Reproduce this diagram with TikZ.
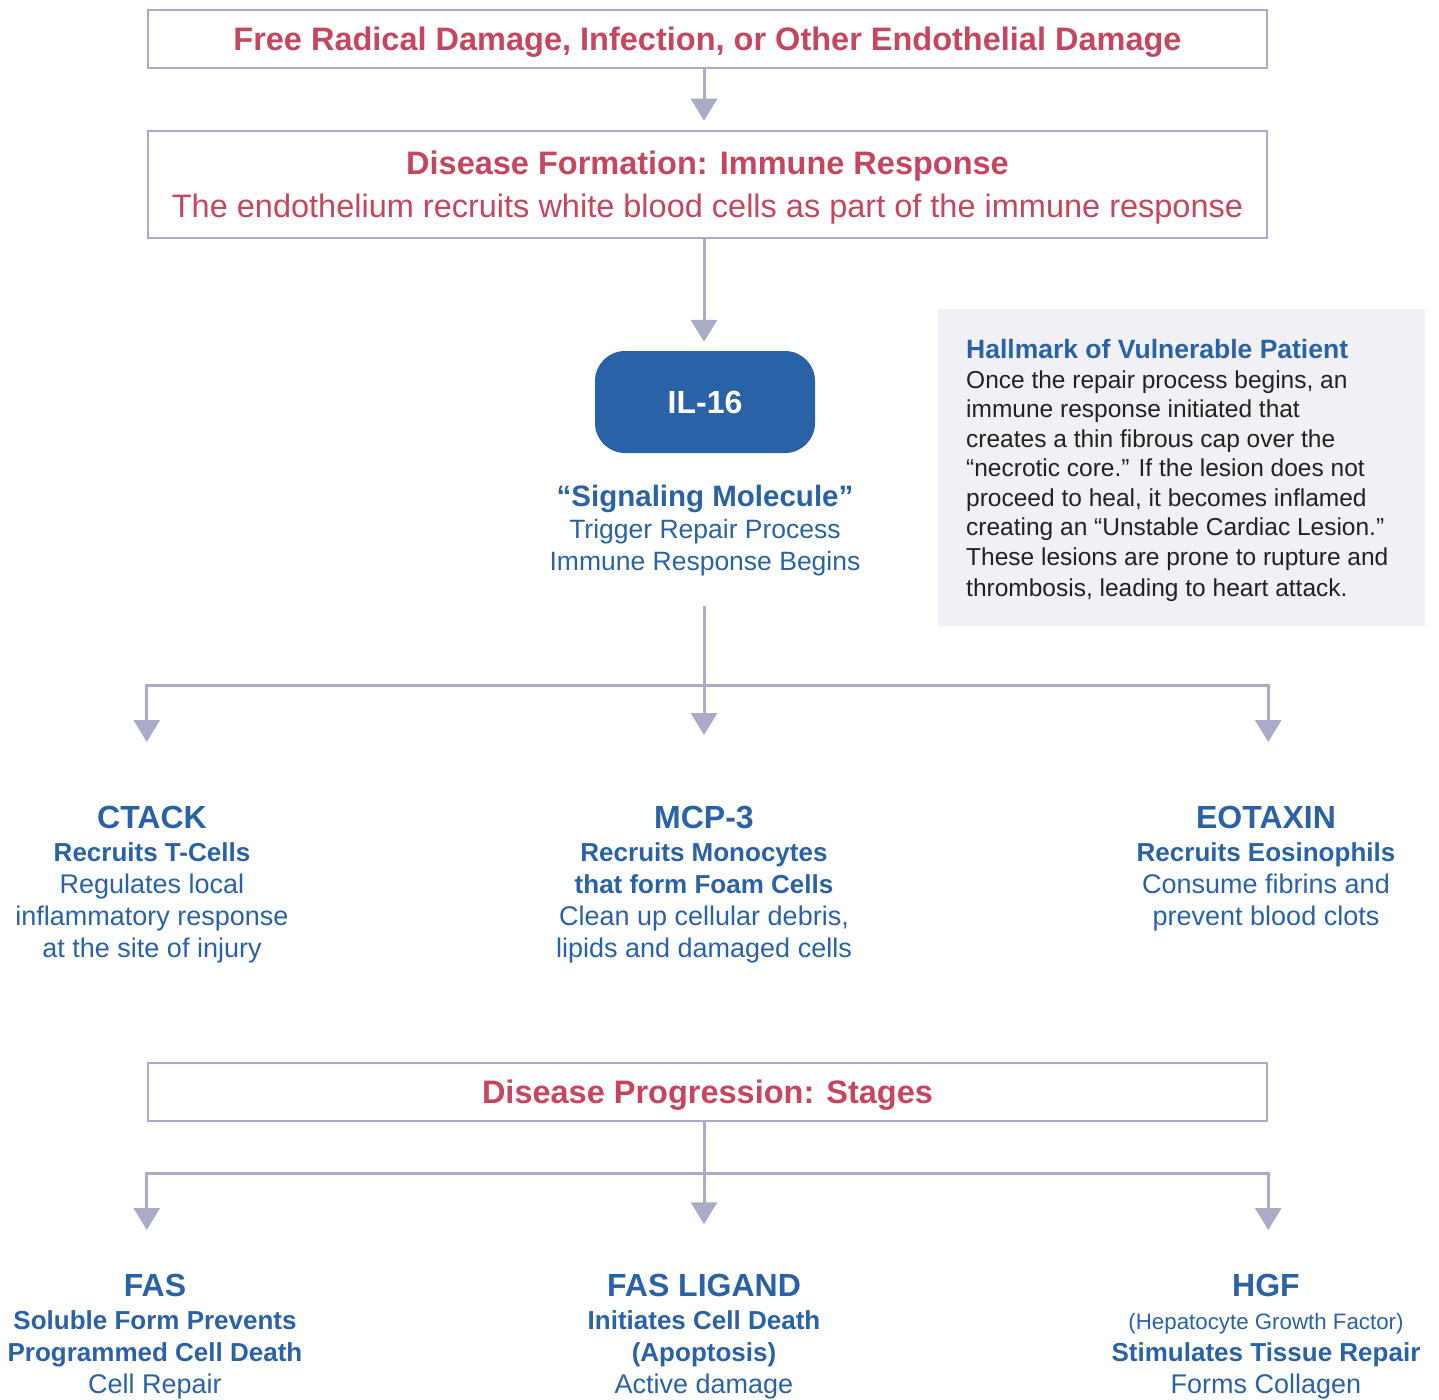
\documentclass[tikz,border=0pt]{standalone}
\usepackage{fontspec}
\setmainfont{Liberation Sans}
\usetikzlibrary{arrows.meta}
\usetikzlibrary{positioning}

\definecolor{rosered}{HTML}{C6465F}
\definecolor{deepblue}{HTML}{2962A6}
\definecolor{linegray}{HTML}{A9ABC9}
\definecolor{panelgray}{HTML}{F0F0F5}
\definecolor{inkgray}{HTML}{222222}

\newcommand{\hdfont}{\fontsize{32}{32}\bfseries}
\newcommand{\subfont}{\fontsize{26}{32}\bfseries}
\newcommand{\txtfont}{\fontsize{27}{32}\mdseries}
\newcommand{\capfont}{\fontsize{26.5}{32}\mdseries}
\newcommand{\smallnote}{\fontsize{22.3}{32}\mdseries}

\tikzset{
  stagebox/.style={draw=linegray, line width=2.5pt, minimum width=1119pt, inner sep=0pt, text depth=0pt,
    align=center, text=rosered, font=\fontsize{32.5}{43}\bfseries},
  wire/.style={draw=linegray, line width=3pt},
  flow/.style={wire, -{Triangle[width=26pt,length=22pt]}},
  fork/.style={wire, {Triangle[width=26pt,length=22pt]}-{Triangle[width=26pt,length=22pt]}},
  column/.style={anchor=north, inner sep=0pt, align=center, text=deepblue, font=\fontsize{27}{32}\selectfont},
}

\begin{document}
\begin{tikzpicture}[x=1pt, y=-1pt,
  il16/.style={fill=deepblue, rounded corners=30pt, minimum width=220pt, minimum height=102pt,
    text=white, font=\fontsize{32}{32}\bfseries},
  caption/.style={anchor=north, inner sep=0pt, align=center, text=deepblue,
    font=\fontsize{29.5}{32}\bfseries},
  panel/.style={anchor=north west, fill=panelgray, minimum width=487pt, minimum height=317pt, inner sep=0pt},
  note/.style={anchor=north west, inner sep=0pt, align=left, text=inkgray, font=\fontsize{24.5}{29.5}\selectfont}]

\useasboundingbox (0,0) rectangle (1439,1399);

% formation
\node[stagebox, minimum height=58pt] (cause) at (707.5,39) {Free Radical Damage, Infection, or Other Endothelial Damage};
\node[stagebox, minimum height=107pt] (formation) at (707.5,184.5) {Disease Formation: Immune Response\\ \mdseries The endothelium recruits white blood cells as part of the immune response};
\node[il16] (il) at (705,402) {IL-16};
\node[caption, below=32pt of il] (signal) {“Signaling Molecule”\\ \capfont Trigger Repair Process\\ \capfont Immune Response Begins};

\node[panel] (hallmark) at (938,309) {};
\node[note] (hallmarktext) at (966,339.5) {{\color{deepblue}\fontsize{26.5}{29.5}\bfseries Hallmark of Vulnerable Patient}\\
Once the repair process begins, an\\
immune response initiated that\\
creates a thin fibrous cap over the\\
“necrotic core.” If the lesion does not\\
proceed to heal, it becomes inflamed\\
creating an “Unstable Cardiac Lesion.”\\
These lesions are prone to rupture and\\[2pt]
thrombosis, leading to heart attack.};

\coordinate (trunkA) at (704,606);
\coordinate (forkA) at (704,685);

\draw[flow] (cause.south -| trunkA) -- ([yshift=9pt]formation.north -| trunkA);
\draw[flow] (formation.south -| trunkA) -- ([yshift=9pt]il.north -| trunkA);
\draw[flow] (trunkA) -- ++(0,129);
\draw[fork] ([yshift=-57pt]forkA -| cause.west) -- (forkA -| cause.west) -- (forkA -| cause.east) -- ([yshift=-57pt]forkA -| cause.east);

\node[column] (ctack) at (152,806) {\hdfont CTACK\\[1pt] \subfont Recruits T-Cells\\ \txtfont Regulates local\\ \txtfont inflammatory response\\ \txtfont at the site of injury};
\node[column] (mcp) at (704,806) {\hdfont MCP-3\\[1pt] \subfont Recruits Monocytes\\ \subfont that form Foam Cells\\ \txtfont Clean up cellular debris,\\ \txtfont lipids and damaged cells};
\node[column] (eotaxin) at (1266,806) {\hdfont EOTAXIN\\[1pt] \subfont Recruits Eosinophils\\ \txtfont Consume fibrins and\\ \txtfont prevent blood clots};

% progression
\node[stagebox, minimum height=58pt] (stages) at (707.5,1092) {Disease Progression: Stages};

\coordinate (forkB) at (704,1173);
\draw[flow] (stages.south -| trunkA) -- ++(0,102);
\draw[fork] ([yshift=-57pt]forkB -| stages.west) -- (forkB -| stages.west) -- (forkB -| stages.east) -- ([yshift=-57pt]forkB -| stages.east);

\node[column] (fas) at (155,1274) {\hdfont FAS\\[1pt] \subfont Soluble Form Prevents\\ \subfont Programmed Cell Death\\ \txtfont Cell Repair};
\node[column] (ligand) at (704,1274) {\hdfont FAS LIGAND\\[1pt] \subfont Initiates Cell Death\\ \subfont (Apoptosis)\\ \txtfont Active damage};
\node[column] (hgf) at (1266,1274) {\hdfont HGF\\[1pt] \smallnote (Hepatocyte Growth Factor)\\ \subfont Stimulates Tissue Repair\\ \txtfont Forms Collagen};

\end{tikzpicture}
\end{document}
